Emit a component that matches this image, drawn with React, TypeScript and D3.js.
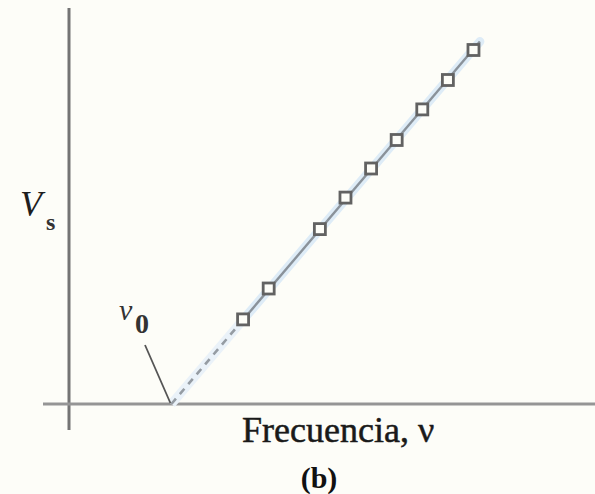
import React from "react";
import * as d3 from "d3";

// Measured stopping voltage against light frequency (arbitrary units)
const frequency = [6.8, 7.8, 9.8, 10.8, 11.8, 12.8, 13.8, 14.8, 15.8];
const stoppingVoltage = [2.82, 3.85, 5.83, 6.88, 7.85, 8.8, 9.82, 10.8, 11.8];
const thresholdFrequency = 4.0;

const xAxisLabel = "Frecuencia, ν";
const yAxisLabel = "V";
const yAxisSub = "s";
const thresholdLabel = "ν";
const thresholdSub = "0";
const panelLabel = "(b)";

const W = 595;
const H = 494;

export default function App() {
  const x = d3.scaleLinear().domain([0, 20]).range([69, 69 + 20 * 25.6]);
  const y = d3.scaleLinear().domain([0, 13]).range([404, 404 - 13 * 30]);

  // slope of V = k (ν - ν0), least squares through the threshold point
  const num = d3.sum(frequency, (f, i) => (f - thresholdFrequency) * stoppingVoltage[i]);
  const den = d3.sum(frequency, (f) => (f - thresholdFrequency) ** 2);
  const k = num / den;
  const fit = (f: number) => k * (f - thresholdFrequency);

  const line = d3
    .line<number>()
    .x((f) => x(f))
    .y((f) => y(fit(f)));

  const fMin = d3.min(frequency)!;
  const fMax = d3.max(frequency)! + 0.25;
  const solid = line([fMin, fMax])!;
  const dashed = line([thresholdFrequency, fMin])!;

  const x0 = x(thresholdFrequency);
  const y0 = y(0);
  const serif = "'Liberation Serif', 'DejaVu Serif', serif";

  return (
    <svg
      width={W}
      height={H}
      style={{ position: "absolute", left: 0, top: 0, background: "#fdfdf8" }}
    >
      <rect width={W} height={H} fill="#fdfdf8" />

      {/* axes */}
      <line x1={x(0)} x2={x(0)} y1={8} y2={430} stroke="#747474" strokeWidth={3} />
      <line x1={43} x2={W} y1={y0} y2={y0} stroke="#959595" strokeWidth={3} />

      {/* fitted line with soft halo */}
      <path d={solid} stroke="#deecf7" strokeWidth={9} fill="none" strokeLinecap="round" />
      <path d={dashed} stroke="#eaf2f9" strokeWidth={9} fill="none" />
      <path d={solid} stroke="#8a929a" strokeWidth={2.4} fill="none" />
      <path
        d={dashed}
        stroke="#959ca3"
        strokeWidth={2.6}
        fill="none"
        strokeDasharray="7 6"
      />

      {/* data points */}
      {frequency.map((f, i) => (
        <rect
          key={i}
          x={x(f) - 5.5}
          y={y(stoppingVoltage[i]) - 5.5}
          width={11}
          height={11}
          fill="#fdfdf8"
          stroke="#626262"
          strokeWidth={2.8}
        />
      ))}

      {/* threshold pointer */}
      <line x1={145} y1={345} x2={x0 - 1} y2={y0 - 1} stroke="#555" strokeWidth={1.8} />
      <text x={119} y={320} fontFamily={serif} fontStyle="italic" fontSize={30} fill="#333">
        {thresholdLabel}
      </text>
      <text x={135} y={333} fontFamily={serif} fontWeight="bold" fontSize={28} fill="#333">
        {thresholdSub}
      </text>

      {/* axis titles */}
      <text x={20} y={216} fontFamily={serif} fontStyle="italic" fontSize={36} fill="#1e1e1e">
        {yAxisLabel}
      </text>
      <text x={46} y={230} fontFamily={serif} fontWeight="bold" fontSize={24} fill="#333">
        {yAxisSub}
      </text>
      <text x={242} y={442} fontFamily={serif} fontSize={36} fill="#1a1a1a" stroke="#1a1a1a" strokeWidth={0.5}>
        {xAxisLabel}
      </text>
      <text
        x={319}
        y={488}
        textAnchor="middle"
        fontFamily={serif}
        fontWeight="bold"
        fontSize={30}
        fill="#111"
      >
        {panelLabel}
      </text>
    </svg>
  );
}
